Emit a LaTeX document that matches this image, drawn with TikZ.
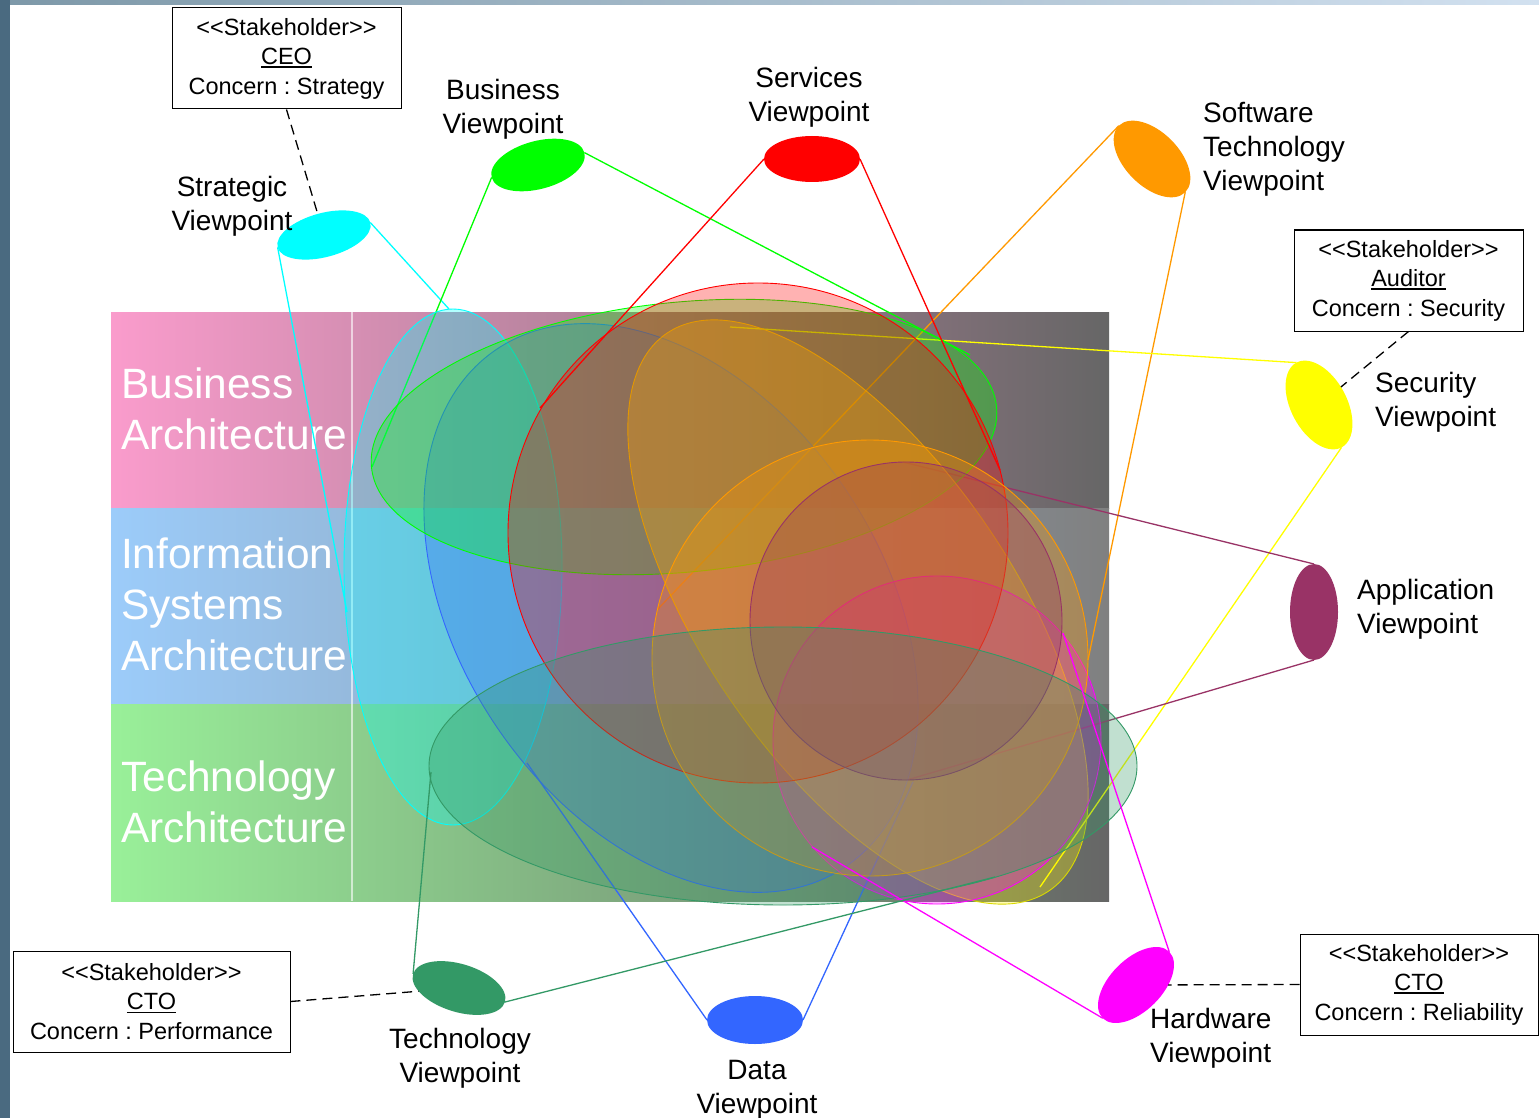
\documentclass[tikz,border=0pt]{standalone}
\usepackage{fontspec}
\setmainfont{Liberation Sans}
\usetikzlibrary{shapes.geometric}
\definecolor{vcyan}{RGB}{0,255,255}
\definecolor{vgreen}{RGB}{0,255,0}
\definecolor{vred}{RGB}{255,0,0}
\definecolor{vorange}{RGB}{255,153,0}
\definecolor{vyellow}{RGB}{255,255,0}
\definecolor{vmaroon}{RGB}{153,51,102}
\definecolor{vmagenta}{RGB}{255,0,255}
\definecolor{vblue}{RGB}{51,102,255}
\definecolor{vteal}{RGB}{51,153,102}
\definecolor{sidestripe}{RGB}{74,106,128}
\definecolor{topL}{RGB}{125,152,168}
\definecolor{topR}{RGB}{210,225,240}
\definecolor{bizL}{RGB}{250,156,204}
\definecolor{bizR}{RGB}{102,102,102}
\definecolor{infL}{RGB}{156,204,250}
\definecolor{infR}{RGB}{128,128,128}
\definecolor{tecL}{RGB}{153,240,153}
\definecolor{tecR}{RGB}{102,102,102}
\newcommand{\myul}[1]{\setbox0\hbox{#1}\rlap{\rule[-3pt]{\wd0}{1.2pt}}\box0}
\newcommand{\stk}{<\kern0pt<Stakeholder>\kern0pt>}
\begin{document}
\begin{tikzpicture}[x=1pt,y=-1pt,
  vp/.style={ellipse, inner sep=0pt, outer sep=0pt},
  cone/.style={ellipse, inner sep=0pt, outer sep=0pt, line width=0.9pt, fill opacity=0.3},
  ray/.style={line width=1.3pt},
  vlab/.style={font=\fontsize{28}{34}\selectfont, inner sep=0pt, align=center, anchor=base},
  vlabl/.style={font=\fontsize{28}{34}\selectfont, inner sep=0pt, align=left, anchor=base west},
  arch/.style={text=white, font=\fontsize{42.4}{51}\selectfont, inner sep=0pt, align=left, anchor=base west},
  stake/.style={draw=black, line width=1pt, fill=white, inner sep=0pt, align=center, font=\fontsize{23.5}{29.5}\selectfont\frenchspacing},
  concern/.style={line width=1.3pt, dash pattern=on 10pt off 6pt}
]
\useasboundingbox (0,0) rectangle (1539,1118);
\fill[white] (0,0) rectangle (1539,1118);
% frame stripes
\shade[left color=topL, right color=topR] (0,0) rectangle (1539,4.7);
\fill[sidestripe] (0,0) rectangle (10,1118);
% architecture bands
\shade[left color=bizL, right color=bizR] (111,312) rectangle (1109,508);
\shade[left color=infL, right color=infR] (111,508) rectangle (1109,704);
\shade[left color=tecL, right color=tecR] (111,704) rectangle (1109,901);
\draw[white, opacity=0.6, line width=1.5pt] (352,312) -- (352,901);
% (base anchor = baseline of the last line)
\node[arch] (bal) at (121,449) {Business\\Architecture};
\node[arch] (isl) at (121,670) {Information\\Systems\\Architecture};
\node[arch] (tal) at (121,842) {Technology\\Architecture};

% small viewpoint ellipses
\node[vp, fill=vcyan, minimum width=96pt, minimum height=44pt, rotate=15] (sv) at (324,235) {};
\node[vp, fill=vgreen, minimum width=96pt, minimum height=48pt, rotate=15] (bv) at (538,165) {};
\node[vp, fill=vred, minimum width=96pt, minimum height=46pt] (svc) at (812,159) {};
\node[vp, fill=vorange, minimum width=94pt, minimum height=54pt, rotate=-45] (stv) at (1152,159) {};
\node[vp, fill=vyellow, minimum width=56pt, minimum height=96pt, rotate=28] (secv) at (1319,405) {};
\node[vp, fill=vmaroon, minimum width=48pt, minimum height=96pt] (av) at (1314,612) {};
\node[vp, fill=vmagenta, minimum width=94pt, minimum height=52pt, rotate=45] (hv) at (1136,985) {};
\node[vp, fill=vblue, minimum width=96pt, minimum height=48pt] (dv) at (755,1020) {};
\node[vp, fill=vteal, minimum width=96pt, minimum height=48pt, rotate=-17] (tv) at (459,988) {};

% cone end points
\coordinate (so1) at (657,610);  \coordinate (so2) at (1088,660);
\coordinate (sy1) at (730,327);  \coordinate (sy2) at (1040,887);
\coordinate (sb1) at (527,763);  \coordinate (sb2) at (913,782);
\coordinate (sc1) at (347,612);  \coordinate (sc2) at (449,309);
\coordinate (sg1) at (372,467);  \coordinate (sg2) at (970,355);
\coordinate (sr1) at (540,408);  \coordinate (sr2) at (1000,470);
\coordinate (sm1) at (903,462);  \coordinate (sm2) at (907,780);
\coordinate (sh1) at (1063,633); \coordinate (sh2) at (812,847);
\coordinate (st1) at (431,772);  \coordinate (st2) at (995,877);

% cone sides lying under the fills
\draw[ray, vorange] (stv.west) -- (so1);
\draw[ray, vorange] (stv.east) -- (so2);
\draw[ray, vyellow] (secv.north) -- (sy1);
\draw[ray, vyellow] (secv.south) -- (sy2);
\draw[ray, vblue] (dv.west) -- (sb1);
\draw[ray, vblue] (dv.east) -- (sb2);
\draw[ray, vcyan] (sv.west) -- (sc1);
\draw[ray, vcyan] (sv.east) -- (sc2);
\draw[ray, vgreen] (bv.west) -- (sg1);
\draw[ray, vgreen] (bv.east) -- (sg2);
\draw[ray, vmaroon] (av.north) -- (sm1);
\draw[ray, vmaroon] (av.south) -- (sm2);

% cone bases
\node[cone, draw=vcyan, fill=vcyan, minimum width=218pt, minimum height=516pt] (cc) at (453,567) {};
\node[cone, draw=vblue, fill=vblue, minimum width=624pt, minimum height=422pt, rotate=-56] (cb) at (671,608) {};
\node[cone, draw=vgreen, fill=vgreen, minimum width=628pt, minimum height=270pt, rotate=5.5] (cg) at (684,437) {};
\node[cone, draw=vyellow!85!black, fill=vyellow!90!orange, minimum width=676pt, minimum height=310pt, rotate=-55.5] (cy) at (858,612) {};
\node[cone, draw=vmagenta, fill=vmagenta, minimum width=328pt, minimum height=328pt] (ch) at (937,740) {};
\node[cone, draw=vred, fill=vred, minimum width=500pt, minimum height=500pt] (cr) at (758,533) {};
\node[cone, draw=vorange, fill=vorange, minimum width=436pt, minimum height=436pt] (co) at (870,658) {};
\node[cone, draw=vmaroon, fill=vmaroon, minimum width=312pt, minimum height=318pt] (cm) at (906,621) {};
\node[cone, draw=vteal, fill=vteal, minimum width=708pt, minimum height=278pt] (ct) at (783,766) {};

% cone sides lying over the fills
\draw[ray, vred] (svc.west) -- (sr1);
\draw[ray, vred] (svc.east) -- (sr2);
\draw[ray, vmagenta] (hv.east) -- (sh1);
\draw[ray, vmagenta] (hv.west) -- (sh2);
\draw[ray, vteal] (tv.west) -- (st1);
\draw[ray, vteal] (tv.east) -- (st2);

% viewpoint labels (base = last line)
\node[vlab] (svl) at (232,230) {Strategic\\Viewpoint};
\node[vlab] (bvl) at (503,134) {Business\\Viewpoint};
\node[vlab] (svcl) at (809,122) {Services\\Viewpoint};
\node[vlabl] (stvl) at (1203,191) {Software\\Technology\\Viewpoint};
\node[vlabl] (secl) at (1375,426) {Security\\Viewpoint};
\node[vlabl] (avl) at (1357,633) {Application\\Viewpoint};
\node[vlabl] (hvl) at (1150,1062) {Hardware\\Viewpoint};
\node[vlab] (dvl) at (757,1113) {Data\\Viewpoint};
\node[vlab] (tvl) at (460,1082) {Technology\\Viewpoint};

% stakeholders
\node[stake, minimum width=229pt, minimum height=101pt] (ceo) at (286.5,58.5) {\stk\\\myul{CEO}\\Concern : Strategy};
\node[stake, minimum width=229pt, minimum height=101pt] (aud) at (1408.5,280.5) {\stk\\\myul{Auditor}\\Concern : Security};
\node[stake, minimum width=277pt, minimum height=101pt] (ctop) at (151.5,1001.5) {\stk\\\myul{CTO}\\Concern : Performance};
\node[stake, minimum width=238pt, minimum height=101pt] (ctor) at (1419,984.5) {\stk\\\myul{CTO}\\Concern : Reliability};
\draw[concern] (ceo.south) -- (sv);
\draw[concern] (aud.south) -- (secv);
\draw[concern] (ctop.east) -- (tv);
\draw[concern] (ctor.west) -- (hv);
\end{tikzpicture}
\end{document}
